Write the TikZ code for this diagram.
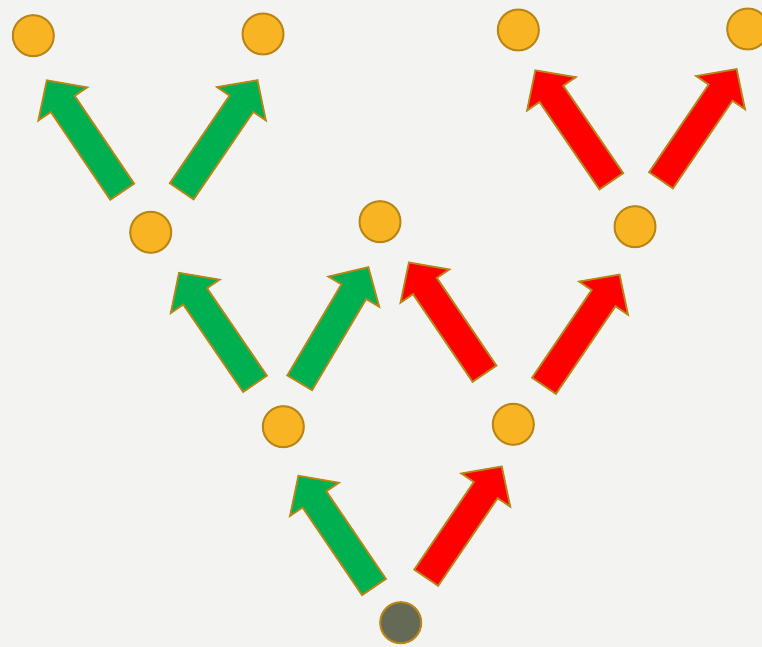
\documentclass[tikz,border=0pt]{standalone}
\definecolor{bg}{RGB}{243,243,241}
\definecolor{dotfill}{RGB}{249,180,36}
\definecolor{edge}{RGB}{184,134,22}
\definecolor{rootfill}{RGB}{100,106,86}
\definecolor{agreen}{RGB}{0,176,80}
\definecolor{ared}{RGB}{255,0,0}
\begin{document}
\begin{tikzpicture}[x=1pt,y=1pt,
  dot/.style={circle,draw=edge,line width=2pt,fill=dotfill,minimum size=41pt,inner sep=0pt},
  rootdot/.style={dot,fill=rootfill},
  arrowline/.style={draw=edge,line width=1.8pt,line join=miter},
  barrow/.pic={\path[arrowline,pic actions] (0,-14.4) -- (106,-14.4) -- (106,-29.5) -- (134.5,0) -- (106,29.5) -- (106,14.4) -- (0,14.4) -- cycle;},
  garrow/.style={fill=agreen},
  rarrow/.style={fill=ared}]
\fill[bg] (0,0) rectangle (762,647);
\useasboundingbox (0,0) rectangle (762,647);
\clip (0,0) rectangle (762,647);
% circles
\node[dot] (a) at (33.3,611.3) {};
\node[dot] (b) at (263,613) {};
\node[dot] (c) at (518.3,617) {};
\node[dot] (d) at (747.7,618) {};
\node[dot] (e) at (150.7,414.7) {};
\node[dot] (f) at (380,425.3) {};
\node[dot] (g) at (635,420.3) {};
\node[dot] (h) at (283.3,220.3) {};
\node[dot] (i) at (513.3,222.7) {};
\node[rootdot] (r) at (400.7,24.3) {};
% arrows
\pic[garrow,rotate=124.2] at (374,60) {barrow};
\pic[rarrow,rotate=55.8] at (426.2,69.3) {barrow};
\pic[garrow,rotate=124.4] at (255,263.2) {barrow};
\pic[garrow,rotate=59.3] at (299.7,264.2) {barrow};
\pic[rarrow,rotate=124.2] at (484.5,273.3) {barrow};
\pic[rarrow,rotate=55.8] at (544,261.2) {barrow};
\pic[garrow,rotate=124.1] at (122.2,455.3) {barrow};
\pic[garrow,rotate=55.7] at (181.7,455.7) {barrow};
\pic[rarrow,rotate=124.4] at (611.3,465.7) {barrow};
\pic[rarrow,rotate=55.8] at (661,466.7) {barrow};
\end{tikzpicture}
\end{document}
